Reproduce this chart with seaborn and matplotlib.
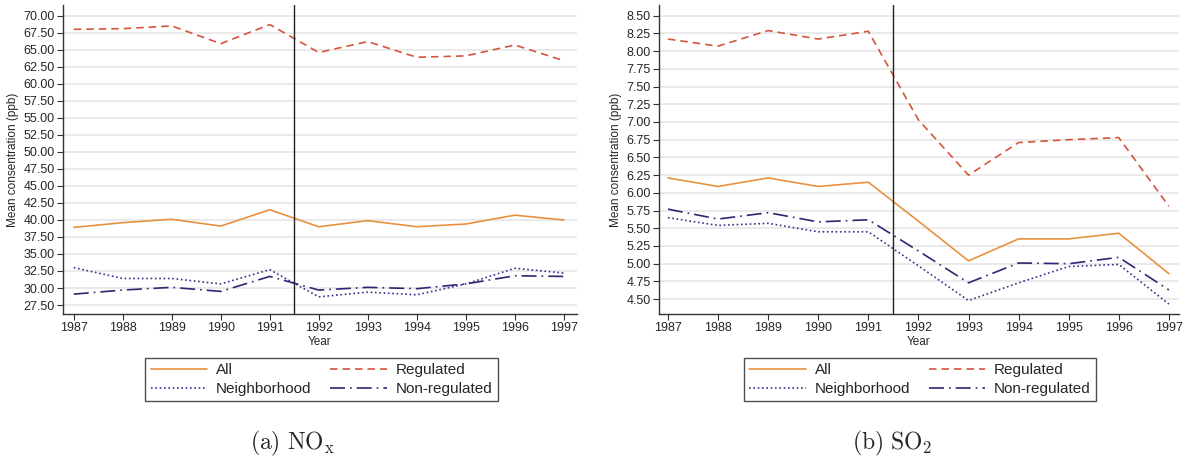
import numpy as np
import pandas as pd
import matplotlib
matplotlib.use("Agg")
import matplotlib.pyplot as plt
import seaborn as sns

years = list(range(1987, 1998))
groups = ["All", "Regulated", "Neighborhood", "Non-regulated"]

# NOx mean concentration (ppb)
nox_all = [38.9, 39.6, 40.1, 39.1, 41.5, 39.0, 39.9, 39.0, 39.4, 40.7, 40.0]
nox_reg = [68.0, 68.1, 68.5, 65.9, 68.7, 64.6, 66.2, 63.9, 64.1, 65.7, 63.4]
nox_nbh = [33.0, 31.4, 31.4, 30.6, 32.7, 28.7, 29.4, 29.0, 30.6, 32.9, 32.2]
nox_non = [29.1, 29.7, 30.1, 29.5, 31.7, 29.7, 30.1, 29.9, 30.6, 31.8, 31.7]

# SO2 mean concentration (ppb)
so2_all = [6.21, 6.09, 6.21, 6.09, 6.15, 5.60, 5.04, 5.35, 5.35, 5.43, 4.86]
so2_reg = [8.17, 8.07, 8.29, 8.17, 8.28, 7.03, 6.25, 6.71, 6.75, 6.78, 5.81]
so2_nbh = [5.65, 5.54, 5.57, 5.45, 5.45, 4.97, 4.48, 4.73, 4.96, 4.99, 4.43]
so2_non = [5.77, 5.63, 5.72, 5.59, 5.62, 5.18, 4.73, 5.01, 5.00, 5.09, 4.63]

nox_ticks = np.arange(27.5, 70.01, 2.5)
so2_ticks = np.arange(4.5, 8.51, 0.25)

colors = {"All": "#e8913f", "Regulated": "#d4553b",
          "Neighborhood": "#34338a", "Non-regulated": "#2e2672"}
dashes = {"All": "", "Regulated": (4.5, 3), "Neighborhood": (1, 1.6),
          "Non-regulated": (9, 3, 1, 3)}


def to_long(series):
    rows = []
    for g, vals in zip(groups, series):
        for y, v in zip(years, vals):
            rows.append({"Year": y, "value": v, "group": g})
    return pd.DataFrame(rows)


sns.set_style("white")
plt.rcParams["font.family"] = ["Liberation Sans", "DejaVu Sans"]
plt.rcParams["mathtext.fontset"] = "cm"

fig = plt.figure(figsize=(11.86, 4.71), dpi=100)
ax1 = fig.add_axes([0.0531, 0.3333, 0.4334, 0.656])
ax2 = fig.add_axes([0.5556, 0.3333, 0.4384, 0.656])

panels = [
    (ax1, to_long([nox_all, nox_reg, nox_nbh, nox_non]), nox_ticks, (26.18, 71.57), (1986.78, 1997.27), 0.2711),
    (ax2, to_long([so2_all, so2_reg, so2_nbh, so2_non]), so2_ticks, (4.29, 8.65), (1986.82, 1997.2), 0.7757),
]

for ax, df, yt, ylim, xlim, lx in panels:
    sns.lineplot(data=df, x="Year", y="value", hue="group", style="group",
                 palette=colors, dashes=dashes, hue_order=groups, style_order=groups,
                 lw=1.2, ax=ax)
    ax.axvline(1991.5, color="#222222", lw=1.0)
    ax.set_ylim(*ylim)
    ax.set_xlim(*xlim)
    ax.set_yticks(yt)
    ax.set_yticklabels(["%.2f" % t for t in yt])
    ax.set_xticks(years)
    ax.tick_params(axis="both", labelsize=9, length=4, width=0.8, color="#333333",
                   direction="out", left=True, bottom=True, pad=2)
    ax.yaxis.grid(True, color="#e6e6e6", lw=1.2)
    ax.set_axisbelow(True)
    for s in ["top", "right"]:
        ax.spines[s].set_visible(False)
    for s in ["left", "bottom"]:
        ax.spines[s].set_color("#333333")
        ax.spines[s].set_linewidth(1.0)
    ax.set_xlabel("Year", fontsize=8.5, labelpad=1)
    ax.set_ylabel("Mean consentration (ppb)", fontsize=8.5, labelpad=3)

    h, l = ax.get_legend_handles_labels()
    hd = dict(zip(l, h))
    order = ["All", "Neighborhood", "Regulated", "Non-regulated"]
    ax.get_legend().remove()
    fig.legend([hd[k] for k in order], order, loc="upper center",
               bbox_to_anchor=(lx, 0.2399), ncol=2, fontsize=11,
               frameon=True, fancybox=False, edgecolor="#222222",
               handlelength=3.7, handletextpad=0.6, columnspacing=1.2,
               labelspacing=0.3, borderpad=0.35, borderaxespad=0)

for lg in fig.legends:
    lg.get_frame().set_linewidth(1.0)

fig.text(292 / 1186, 1 - 443 / 471, r"$\mathrm{(a)\ NO_x}$", ha="center", va="center", fontsize=17)
fig.text(892 / 1186, 1 - 443 / 471, r"$\mathrm{(b)\ SO_2}$", ha="center", va="center", fontsize=17)

fig.savefig("out.png", dpi=100)
